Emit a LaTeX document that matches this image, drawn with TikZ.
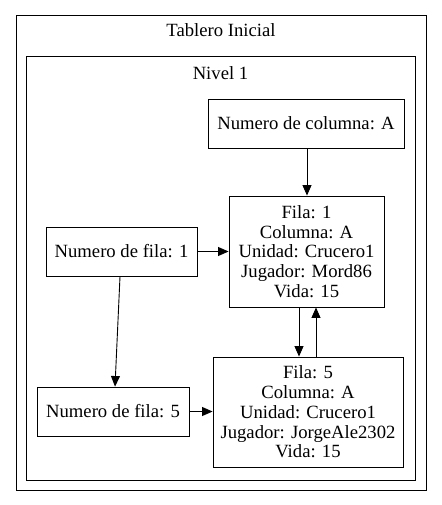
\documentclass[tikz,border=0pt]{standalone}
\usepackage{fontspec}
\setmainfont{Liberation Serif}
\usetikzlibrary{arrows.meta}
\begin{document}
\begin{tikzpicture}[x=1pt,y=-1pt,
  box/.style={draw,line width=0.9pt,inner sep=0pt,font=\rmfamily\fontsize{18.67}{19.7}\selectfont,align=center},
  cluster/.style={draw,line width=1pt},
  lbl/.style={font=\rmfamily\fontsize{18.67}{20}\selectfont},
  arr/.style={line width=0.9pt,-{Triangle[length=10.5pt,width=9pt]}}]
\useasboundingbox (0,0) rectangle (441,505);
\draw[cluster] (16,16) rectangle (426,490);
\node[lbl] (t1) at (221,30) {Tablero Inicial};
\draw[cluster] (26,57) rectangle (415,480);
\node[lbl] (t2) at (220.5,73) {Nivel 1};
\node[box,minimum width=196pt,minimum height=49pt] (col) at (306,123.5) {Numero de columna: A};
\node[box,minimum width=155pt,minimum height=111pt] (f1) at (306.5,251.5) {Fila: 1\\Columna: A\\Unidad: Crucero1\\Jugador: Mord86\\Vida: 15};
\node[box,minimum width=190pt,minimum height=110pt] (f5) at (308,412) {Fila: 5\\Columna: A\\Unidad: Crucero1\\Jugador: JorgeAle2302\\Vida: 15};
\node[box,minimum width=151pt,minimum height=49pt] (n1) at (121.5,251.5) {Numero de fila: 1};
\node[box,minimum width=152pt,minimum height=49pt] (n5) at (113,411.5) {Numero de fila: 5};
\draw[arr] (col.south -| 307,0) -- (f1.north -| 307,0);
\draw[arr] (n1.east) -- (f1.west);
\draw[arr] (n1.south -| 120,0) -- (n5.north -| 115,0);
\draw[arr] (n5.east) -- (f5.west |- n5.east);
\draw[arr] (f1.south -| 299,0) -- (f5.north -| 299,0);
\draw[arr] (f5.north -| 316,0) -- (f1.south -| 316,0);
\end{tikzpicture}
\end{document}
